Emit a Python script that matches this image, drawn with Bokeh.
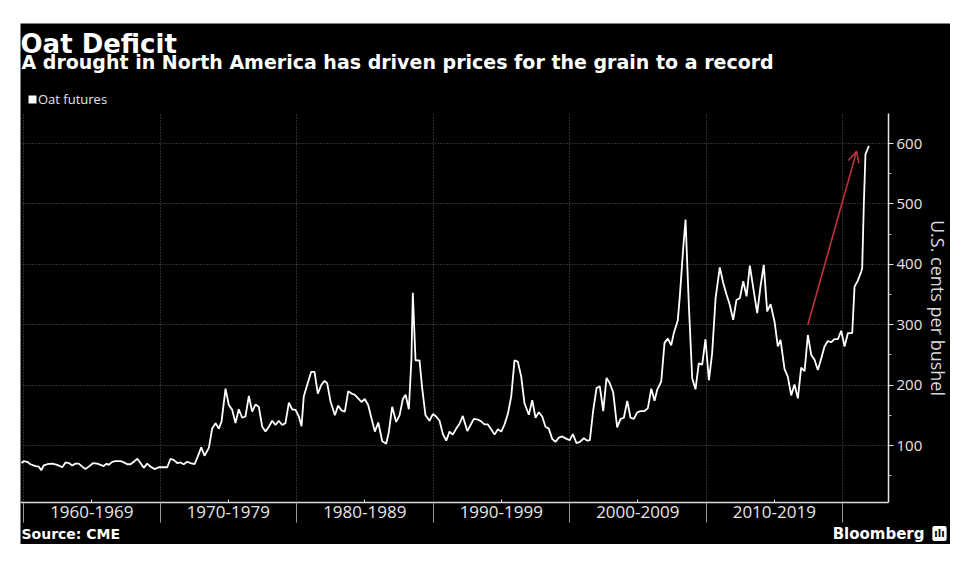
from bokeh.plotting import figure
from bokeh.models import (Range1d, FixedTicker, Label, Legend, LegendItem, Arrow,
                          OpenHead, ColumnDataSource, LinearAxis, Grid)
from bokeh.embed import file_html
from bokeh.resources import INLINE

# ---------------- data ----------------
years_1960s = [1959.85, 1960.02, 1960.27, 1960.51, 1960.88, 1961.12, 1961.30, 1961.49, 1961.74,
               1962.10, 1962.47, 1962.84, 1963.08, 1963.32, 1963.57, 1963.81, 1964.05, 1964.30,
               1964.54, 1964.78, 1965.11, 1965.40, 1965.64, 1965.88, 1966.08, 1966.25, 1966.50,
               1966.74, 1967.11, 1967.35, 1967.60, 1967.84, 1968.08, 1968.33, 1968.57, 1968.81,
               1969.06, 1969.30, 1969.60, 1969.91]
prices_1960s = [71, 74, 73, 69, 66, 65, 59, 67, 69,
                70, 68, 64, 72, 71, 67, 70, 70, 65,
                61, 65, 71, 70, 68, 66, 70, 68, 73,
                74, 74, 72, 69, 69, 73, 78, 71, 63,
                70, 65, 61, 64]

years_1970s = [1970.28, 1970.53, 1970.77, 1971.01, 1971.26, 1971.50, 1971.74, 1971.99, 1972.23,
               1972.53, 1972.77, 1973.02, 1973.26, 1973.58, 1973.82, 1974.07, 1974.31, 1974.51,
               1974.80, 1975.04, 1975.29, 1975.53, 1975.77, 1976.02, 1976.26, 1976.51, 1976.75,
               1977.00, 1977.24, 1977.49, 1977.73, 1977.97, 1978.22, 1978.46, 1978.70, 1978.95,
               1979.19, 1979.44, 1979.68, 1979.93]
prices_1970s = [64, 64, 78, 76, 71, 72, 69, 73, 71,
                69, 82, 97, 83, 96, 128, 137, 128, 140,
                194, 167, 159, 137, 160, 146, 148, 182, 156,
                168, 164, 131, 123, 131, 141, 134, 141, 134,
                137, 171, 160, 159]

years_1980s = [1980.17, 1980.37, 1980.53, 1980.78, 1981.08, 1981.32, 1981.56, 1981.81, 1982.05,
               1982.25, 1982.49, 1982.81, 1983.05, 1983.30, 1983.54, 1983.79, 1984.03, 1984.27,
               1984.52, 1984.76, 1985.00, 1985.25, 1985.49, 1985.74, 1985.99, 1986.28, 1986.57,
               1986.76, 1987.01, 1987.30, 1987.55, 1987.79, 1987.99, 1988.23, 1988.42, 1988.52,
               1988.72, 1989.01, 1989.21, 1989.45, 1989.74, 1989.99]
prices_1980s = [148, 132, 181, 200, 222, 222, 186, 200, 207,
                203, 173, 150, 166, 158, 156, 190, 186, 184,
                178, 172, 177, 167, 145, 123, 138, 107, 103,
                122, 164, 139, 150, 177, 184, 160, 244, 353,
                241, 241, 194, 150, 141, 152]

years_1990s = [1990.23, 1990.48, 1990.72, 1990.97, 1991.21, 1991.45, 1991.70, 1991.94, 1992.18,
               1992.51, 1992.75, 1992.99, 1993.28, 1993.53, 1993.77, 1994.01, 1994.26, 1994.51,
               1994.75, 1995.00, 1995.24, 1995.48, 1995.73, 1995.97, 1996.21, 1996.46, 1996.70,
               1997.02, 1997.27, 1997.51, 1997.75, 1998.00, 1998.24, 1998.48, 1998.73, 1998.97,
               1999.22, 1999.47, 1999.78]
prices_1990s = [148, 141, 119, 108, 123, 118, 128, 136, 149,
                124, 134, 144, 143, 140, 135, 135, 127, 118,
                127, 123, 135, 152, 181, 241, 239, 214, 170,
                151, 175, 146, 155, 148, 131, 128, 111, 106,
                113, 115, 111]

years_2000s = [2000.02, 2000.24, 2000.51, 2000.76, 2001.05, 2001.30, 2001.49, 2001.74, 2001.98,
               2002.22, 2002.47, 2002.71, 2002.95, 2003.20, 2003.49, 2003.74, 2003.98, 2004.23,
               2004.47, 2004.71, 2004.96, 2005.20, 2005.49, 2005.74, 2005.99, 2006.23, 2006.42,
               2006.72, 2006.96, 2007.20, 2007.45, 2007.64, 2007.93, 2008.08, 2008.33, 2008.50,
               2008.74, 2008.99, 2009.23, 2009.47, 2009.72, 2009.96]
prices_2000s = [109, 119, 104, 106, 112, 108, 109, 159, 195,
                198, 157, 212, 203, 188, 130, 144, 146, 174,
                146, 144, 155, 157, 157, 162, 194, 174, 192,
                206, 270, 277, 266, 286, 307, 347, 427, 474,
                333, 211, 193, 236, 234, 276]

years_2010s = [2010.21, 2010.45, 2010.70, 2011.01, 2011.26, 2011.50, 2011.74, 2011.99, 2012.23,
               2012.48, 2012.73, 2012.97, 2013.21, 2013.46, 2013.75, 2013.99, 2014.23, 2014.48,
               2014.73, 2015.02, 2015.26, 2015.46, 2015.75, 2015.99, 2016.24, 2016.48, 2016.73,
               2016.97, 2017.22, 2017.46, 2017.71, 2017.95, 2018.19, 2018.44, 2018.68, 2018.92,
               2019.17, 2019.41, 2019.66, 2019.90]
prices_2010s = [208, 253, 344, 395, 369, 350, 333, 308, 341,
                344, 372, 347, 398, 361, 319, 363, 399, 322,
                334, 305, 264, 275, 227, 214, 183, 201, 178,
                229, 223, 283, 250, 242, 225, 244, 264, 273,
                271, 276, 276, 290]

years_2020s = [2020.15, 2020.39, 2020.71, 2020.88, 2021.12, 2021.37, 2021.44, 2021.56, 2021.68, 2021.93]
prices_2020s = [264, 286, 286, 363, 373, 388, 393, 499, 582, 596]

years = years_1960s + years_1970s + years_1980s + years_1990s + years_2000s + years_2010s + years_2020s
prices = prices_1960s + prices_1970s + prices_1980s + prices_1990s + prices_2000s + prices_2010s + prices_2020s

decade_edges = [1960, 1970, 1980, 1990, 2000, 2010, 2020]
decade_mids = [1965, 1975, 1985, 1995, 2005, 2015]
decade_labels = ["1960-1969", "1970-1979", "1980-1989", "1990-1999", "2000-2009", "2010-2019"]
y_ticks = [100, 200, 300, 400, 500, 600]
y_minor_ticks = [50, 150, 250, 350, 450, 550]

# plotted data window (the axes are drawn at its edges)
x_window = (1959.78, 2023.37)
y_window = (5.6, 649.7)

arrow_start = (2017.46, 300)
arrow_end = (2021.03, 587)

title_text = "Oat Deficit"
subtitle_text = "A drought in North America has driven prices for the grain to a record"
series_name = "Oat futures"
y_label = "U.S. cents per bushel"
source_text = "Source: CME"

# ---------------- figure ----------------
src = ColumnDataSource(data=dict(year=years, price=prices))

p = figure(frame_width=930, frame_height=521,
           x_range=Range1d(1959.78, 2027.91), y_range=Range1d(-63.9, 798.7),
           x_axis_location=None, y_axis_location=None,
           output_backend="svg", toolbar_location=None,
           min_border=0, min_border_left=0, min_border_right=0,
           min_border_top=0, min_border_bottom=0,
           background_fill_color="black", border_fill_color="black",
           outline_line_color=None, margin=(23, 0, 0, 20))
p.title.visible = False

# drop the default full-frame grids
p.center = [r for r in p.center if not isinstance(r, Grid)]

# dotted grid lines, limited to the data window
grid_style = dict(grid_line_color="#5a5a5a", grid_line_dash="1 2", grid_line_width=1)
p.add_layout(Grid(dimension=0, ticker=FixedTicker(ticks=decade_edges),
                  cross_bounds=y_window, **grid_style))
p.add_layout(Grid(dimension=1, ticker=FixedTicker(ticks=y_ticks),
                  cross_bounds=x_window, **grid_style))

# x axis, drawn at the bottom of the data window
xa = LinearAxis(fixed_location=y_window[0], bounds=x_window,
                ticker=FixedTicker(ticks=decade_mids, minor_ticks=decade_edges))
xa.major_label_overrides = dict(zip(decade_mids, decade_labels))
xa.axis_line_color = "#dcdcdc"
xa.axis_line_width = 1.5
xa.major_tick_in = 3
xa.major_tick_out = 0
xa.major_tick_line_color = "#dcdcdc"
xa.minor_tick_in = 0
xa.minor_tick_out = 20
xa.minor_tick_line_color = "#9a9a9a"
xa.major_label_text_color = "#e6e6e6"
xa.major_label_text_font = "Open Sans"
xa.major_label_text_font_size = "17px"
xa.major_label_standoff = -17
p.add_layout(xa, "below")

# y axis, drawn at the right edge of the data window
ya = LinearAxis(fixed_location=x_window[1], bounds=y_window,
                ticker=FixedTicker(ticks=y_ticks, minor_ticks=y_minor_ticks))
ya.axis_line_color = "#e6e6e6"
ya.axis_line_width = 1.5
ya.major_tick_in = 0
ya.major_tick_out = 5
ya.major_tick_line_color = "#e6e6e6"
ya.minor_tick_in = 0
ya.minor_tick_out = 3
ya.minor_tick_line_color = "#bdbdbd"
ya.major_label_text_color = "#e6e6e6"
ya.major_label_text_font = "Open Sans"
ya.major_label_text_font_size = "15px"
ya.major_label_standoff = 3
ya.axis_label = y_label
ya.axis_label_text_color = "#d9d9d9"
ya.axis_label_text_font = "Open Sans"
ya.axis_label_text_font_style = "normal"
ya.axis_label_text_font_size = "18px"
ya.axis_label_standoff = 1
p.add_layout(ya, "right")

# series
line = p.line("year", "price", source=src, line_color="white", line_width=1.8)

# legend swatch (square): a degenerate, invisible proxy glyph at the window corner
swatch = p.quad(left=[x_window[0]], right=[x_window[0]], top=[y_window[0]], bottom=[y_window[0]],
                fill_color="white", line_color=None)
legend = Legend(items=[LegendItem(label=series_name, renderers=[swatch])],
                location=(7, 436), orientation="horizontal", padding=0, margin=0,
                glyph_width=10, glyph_height=10, label_height=10, label_standoff=1,
                label_text_font="Open Sans", label_text_font_size="13px",
                label_text_color="#e6e6e6", background_fill_alpha=0,
                border_line_color=None)
p.add_layout(legend)

# red arrow annotation
red = "#c0313f"
p.add_layout(Arrow(end=OpenHead(size=11, line_color=red, line_width=1.6),
                   x_start=arrow_start[0], y_start=arrow_start[1],
                   x_end=arrow_end[0], y_end=arrow_end[1],
                   line_color=red, line_width=1.6))


def add_text(text, x, y, size, style="bold", color="white", align="left",
             baseline="alphabetic", font="DejaVu Sans", **kw):
    lab = Label(x=x, y=y, x_units="screen", y_units="screen", text=text,
                text_font=font, text_font_size=size, text_font_style=style,
                text_color=color, text_align=align, text_baseline=baseline, **kw)
    p.add_layout(lab)
    return lab


add_text(title_text, 0, 500.8, "26px")
add_text(subtitle_text, 1, 483, "19px")
add_text(source_text, 1, 10.7, "14px")
add_text("Bloomberg", 904, 10.7, "15px", align="right")
add_text("\u0131l\u0131", 919, 11, "10px", color="black", align="center", baseline="middle",
         background_fill_color="white", padding=2, border_radius=2)

open("out.html", "w").write(file_html(p, INLINE))
